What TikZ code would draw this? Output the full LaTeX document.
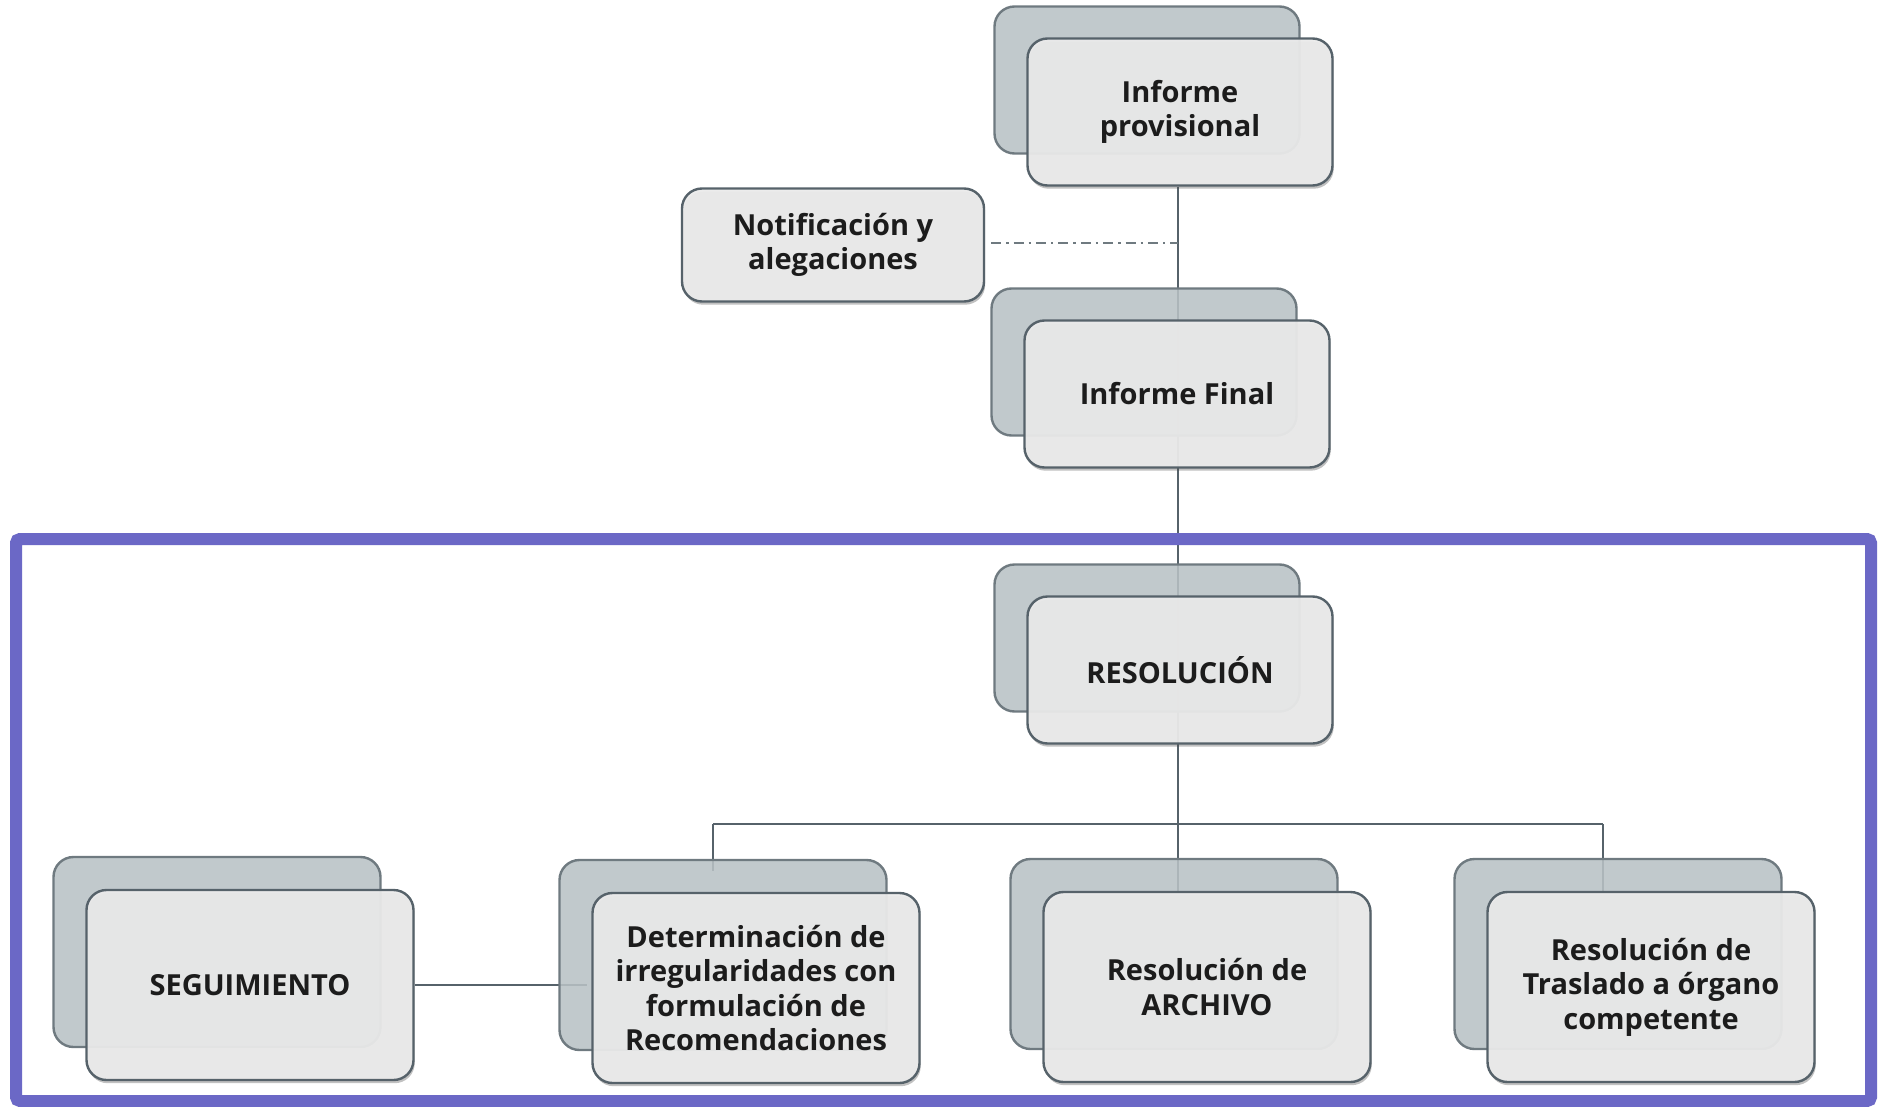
\documentclass[tikz,border=0pt]{standalone}
\usepackage{fontspec}
\setmainfont{Open Sans}
\usetikzlibrary{shadows,backgrounds}

\definecolor{boxline}{HTML}{56626A}
\definecolor{backfill}{HTML}{B8C1C5}
\definecolor{frontfill}{HTML}{EBEBEB}
\definecolor{framecol}{HTML}{6B68C6}
\definecolor{textcol}{HTML}{1C1C1C}

\begin{document}
\begin{tikzpicture}[x=0.5pt,y=-0.5pt,
  box/.style={rounded corners=10pt, line width=1.2pt, draw=boxline, align=center,
    text=textcol, inner sep=0pt, font=\fontsize{14.5}{17.3}\selectfont\bfseries},
  backbox/.style={box, fill=backfill, fill opacity=0.88, draw=boxline!85},
  frontbox/.style={box, fill=frontfill, fill opacity=0.94, text opacity=1,
    drop shadow={shadow xshift=0.6pt, shadow yshift=-1.6pt, opacity=0.35, fill=black!70}},
  topsize/.style={minimum width=152.5pt, minimum height=73.5pt},
  lowsize/.style={minimum width=163.5pt, minimum height=95pt},
  conn/.style={draw=boxline, line width=1pt}]
\useasboundingbox (0,0) rectangle (1883,1107);

% upper chain
\foreach \nm/\px/\py/\txt in {prov/1180/112/{Informe\\provisional},
    final/1177/394/{Informe Final}, res/1180/670/{RESOLUCIÓN}}{
  \node[backbox, topsize] (\nm b) at (\px-33,\py-32) {};
  \node[frontbox, topsize] (\nm) at (\px,\py) {\txt};
}
\node[frontbox, minimum width=151pt, minimum height=56.5pt] (notif) at (833,245)
  {Notificación y\\alegaciones};

% lower row
\foreach \nm/\px/\py/\txt in {seg/250/985/{SEGUIMIENTO},
    det/756/988/{Determinación de\\irregularidades con\\formulación de\\Recomendaciones},
    arch/1207/987/{Resolución de\\ARCHIVO},
    tras/1651/987/{Resolución de\\Traslado a órgano\\competente}}{
  \node[backbox, lowsize] (\nm b) at (\px-33,\py-33) {};
  \node[frontbox, lowsize] (\nm) at (\px,\py) {\txt};
}

\coordinate (spine) at (1178,0);
\coordinate (busl) at (713,824);
\coordinate (busr) at (1603,824);

\begin{scope}[on background layer]
\draw[conn] (prov.south -| spine) -- (spine |- arch.north);
\draw[conn] (busl) -- (busr);
\draw[conn] (busl) -- ([yshift=-6pt]busl |- detb.north);
\draw[conn] (busr) -- (busr |- tras.north);
\draw[conn] (seg.east) -- ([xshift=-2pt]seg.east -| det.west);
\draw[boxline!85, line width=0.8pt, dash pattern=on 5pt off 2.5pt on 1.2pt off 2.5pt]
  ([xshift=3pt,yshift=1pt]notif.east) -- ([yshift=1pt]notif.east -| spine);
\end{scope}

\draw[framecol, line width=6pt, rounded corners=2pt] (16,539) rectangle (1871,1101);
\end{tikzpicture}
\end{document}
